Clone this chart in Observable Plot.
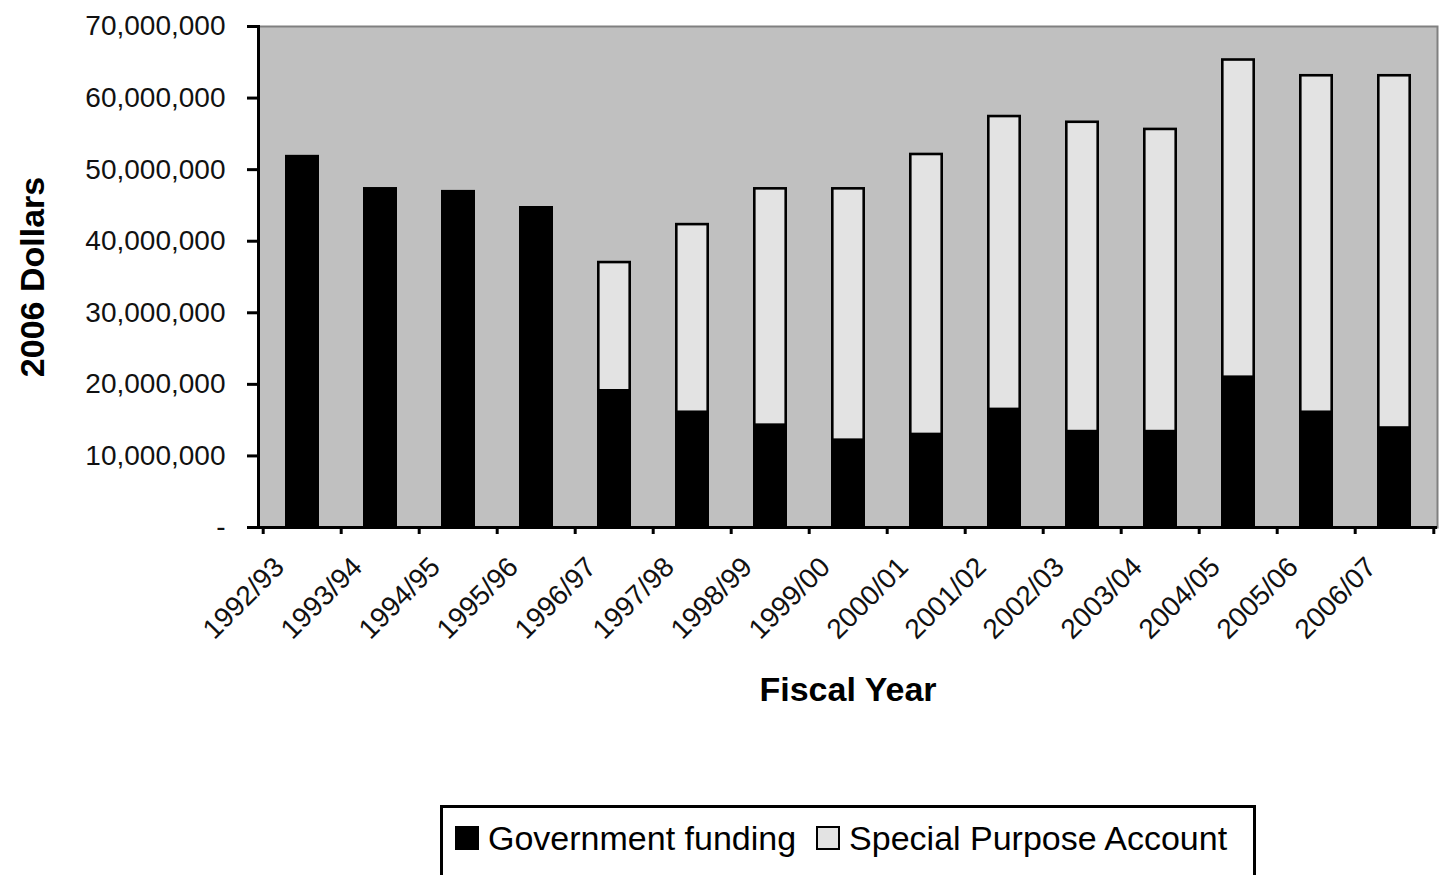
<!DOCTYPE html>
<html><head><meta charset="utf-8">
<script src="https://cdn.jsdelivr.net/npm/d3@7"></script>
<script src="https://cdn.jsdelivr.net/npm/@observablehq/plot@0.6"></script>
<style>
body{margin:0;background:#fff;font-family:"Liberation Sans",Arial,sans-serif;}
#wrap{position:relative;width:1439px;height:875px;overflow:hidden;}
#chart{position:absolute;left:0;top:0;}
#legend{position:absolute;left:440px;top:805px;width:816px;height:100px;border:3px solid #000;box-sizing:border-box;padding:12px 0 0 12px;display:flex;align-items:flex-start;font-size:34px;line-height:36px;color:#000;}
.item{display:flex;align-items:center;}
.sw{width:24px;height:24px;box-sizing:border-box;border:2px solid #000;margin-right:9px;}
</style></head>
<body>
<div id="wrap"><div id="chart"></div><div id="legend"></div></div>
<script>
const categories = ["1992/93","1993/94","1994/95","1995/96","1996/97","1997/98","1998/99","1999/00","2000/01","2001/02","2002/03","2003/04","2004/05","2005/06","2006/07"];
const government = [52.0e6, 47.5e6, 47.1e6, 44.85e6, 19.1e6, 16.1e6, 14.3e6, 12.2e6, 13.0e6, 16.5e6, 13.4e6, 13.4e6, 21.0e6, 16.1e6, 13.9e6];
const specialPurpose = [0, 0, 0, 0, 18.1e6, 26.4e6, 33.2e6, 35.3e6, 39.3e6, 41.1e6, 43.4e6, 42.4e6, 44.5e6, 47.2e6, 49.4e6];
const yTicks = [0, 10e6, 20e6, 30e6, 40e6, 50e6, 60e6, 70e6];
const yTickLabels = ["-", "10,000,000", "20,000,000", "30,000,000", "40,000,000", "50,000,000", "60,000,000", "70,000,000"];
const seriesNames = ["Government funding", "Special Purpose Account"];
const seriesColors = ["#000000", "#e3e3e3"];
const yTitle = "2006 Dollars";
const xTitle = "Fiscal Year";

const rows = categories.map((c, i) => ({year: c, gov: government[i], spa: specialPurpose[i]}));
const W = 1439, H = 800, mL = 258, mR = 2, mT = 26, mB = 273;
const step = (W - mL - mR) / categories.length;

const chart = Plot.plot({
  width: W, height: H, marginLeft: mL, marginRight: mR, marginTop: mT, marginBottom: mB,
  style: {fontFamily: '"Liberation Sans", Arial, sans-serif', background: "transparent", color: "#000"},
  x: {type: "band", domain: categories, paddingInner: 0.57, paddingOuter: 0.285},
  y: {domain: [0, 70e6]},
  marks: [
    Plot.frame({fill: "#c0c0c0", stroke: "#808080", strokeWidth: 2}),
    Plot.barY(rows.filter(d => d.spa > 0), {x: "year", y1: d => d.gov, y2: d => d.gov + d.spa, fill: seriesColors[1], stroke: "#000", strokeWidth: 2.6, insetLeft: 1.3, insetRight: 1.3, insetTop: 1.3}),
    Plot.barY(rows, {x: "year", y1: 0, y2: "gov", fill: seriesColors[0]}),
    Plot.axisY({ticks: yTicks, tickFormat: d => yTickLabels[yTicks.indexOf(d)], tickSize: 11, tickPadding: 22, fontSize: 28, strokeWidth: 3, label: null, fill: "#111"}),
    Plot.axisX({ticks: categories, tickSize: 0, tickPadding: 35, tickRotate: -45, dx: -23, fontSize: 28, label: null, fill: "#111"}),
    Plot.axisX({ticks: categories, tickSize: 7, tickFormat: () => "", dx: -step / 2, strokeWidth: 3, label: null}),
    Plot.axisX({ticks: [categories[categories.length - 1]], tickSize: 7, tickFormat: () => "", dx: step / 2, strokeWidth: 3, label: null}),
    Plot.ruleY([0], {stroke: "#000", strokeWidth: 3}),
    Plot.frame({anchor: "left", stroke: "#000", strokeWidth: 3}),
    Plot.text([yTitle], {text: d => d, frameAnchor: "left", dx: -225, rotate: -90, textAnchor: "middle", fontSize: 34, fontWeight: "bold"}),
    Plot.text([xTitle], {text: d => d, frameAnchor: "bottom", dy: 173, textAnchor: "middle", fontSize: 34, fontWeight: "bold"})
  ]
});
document.getElementById("chart").appendChild(chart);

const legend = document.getElementById("legend");
seriesNames.forEach((name, i) => {
  const item = document.createElement("div");
  item.className = "item";
  if (i > 0) item.style.marginLeft = "20px";
  const sw = document.createElement("div");
  sw.className = "sw";
  sw.style.background = seriesColors[i];
  const t = document.createElement("span");
  t.textContent = name;
  item.appendChild(sw); item.appendChild(t);
  legend.appendChild(item);
});
</script>
</body></html>
